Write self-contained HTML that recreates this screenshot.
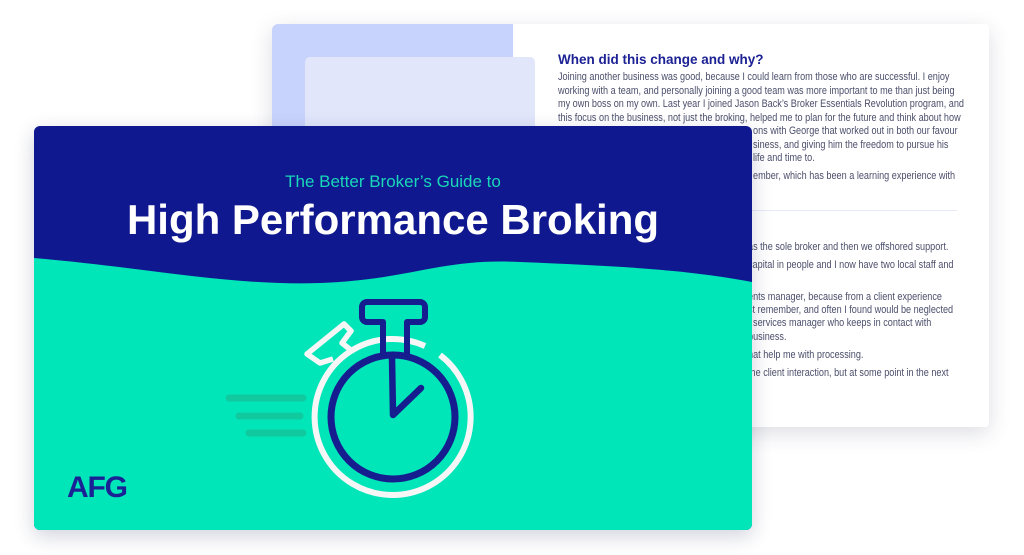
<!DOCTYPE html>
<html><head><meta charset="utf-8"><style>
html,body{margin:0;padding:0;background:#fff;}
body{width:1024px;height:555px;position:relative;overflow:hidden;font-family:"Liberation Sans",sans-serif;}
.page{position:absolute;left:272px;top:24px;width:717px;height:403px;background:#fff;border-radius:4px;box-shadow:0 6px 22px rgba(40,45,80,.16);}
.p1{position:absolute;left:272px;top:24px;width:241px;height:200px;background:#c8d3fd;border-radius:6px 0 0 0;}
.p2{position:absolute;left:305px;top:57px;width:230px;height:160px;background:#e1e6fb;border-radius:5px;}
.t{position:absolute;font-size:10.6px;color:#4b4f6b;white-space:nowrap;line-height:13px;transform:scaleX(0.86);transform-origin:0 0;}
h3{position:absolute;left:558px;top:52px;margin:0;font-size:13.5px;color:#1c2194;font-weight:bold;}
.div{position:absolute;left:558px;top:210px;width:399px;height:1px;background:#e6e9f7;}
.card{position:absolute;left:34px;top:126px;width:718px;height:404px;border-radius:6px;overflow:hidden;background:#10188f;box-shadow:0 6px 20px rgba(20,30,80,.2);}
</style></head><body>
<div class="page"></div>
<div class="p1"></div>
<div class="p2"></div>
<h3>When did this change and why?</h3>
<div class="t" style="left:558px;top:71px">Joining another business was good, because I could learn from those who are successful. I enjoy</div>
<div class="t" style="left:558px;top:85px">working with a team, and personally joining a good team was more important to me than just being</div>
<div class="t" style="left:558px;top:98px">my own boss on my own. Last year I joined Jason Back’s Broker Essentials Revolution program, and</div>
<div class="t" style="left:558px;top:112px">this focus on the business, not just the broking, helped me to plan for the future and think about how</div>
<div class="t" style="left:753px;top:125px">ons with George that worked out in both our favour</div>
<div class="t" style="left:753px;top:139px">siness, and giving him the freedom to pursue his</div>
<div class="t" style="left:753px;top:152px">life and time to.</div>
<div class="t" style="left:753px;top:170px">ember, which has been a learning experience with</div>
<div class="div"></div>
<div class="t" style="left:748px;top:241px">as the sole broker and then we offshored support.</div>
<div class="t" style="left:748px;top:259px">capital in people and I now have two local staff and</div>
<div class="t" style="left:748px;top:291px">ents manager, because from a client experience</div>
<div class="t" style="left:748px;top:304px">st remember, and often I found would be neglected</div>
<div class="t" style="left:748px;top:317px">t services manager who keeps in contact with</div>
<div class="t" style="left:748px;top:331px">business.</div>
<div class="t" style="left:748px;top:349px">hat help me with processing.</div>
<div class="t" style="left:748px;top:367px">the client interaction, but at some point in the next</div>
<div class="card">
<svg width="718" height="404" viewBox="34 126 718 404" style="position:absolute;left:0;top:0">
<path d="M34,258 C150,268 230,286 320,283 C410,280 440,258 520,262 C620,266 690,270 752,282 L752,530 L34,530 Z" fill="#00e6b9"/>
<text x="393" y="187" text-anchor="middle" font-family="Liberation Sans" font-size="17" fill="#19d7b8">The Better Broker’s Guide to</text>
<text x="393" y="234" text-anchor="middle" font-family="Liberation Sans" font-weight="bold" font-size="42" fill="#fff">High Performance Broking</text>
<g stroke="#10c99f" stroke-width="7" stroke-linecap="round">
<line x1="229" y1="398" x2="303" y2="398"/><line x1="239" y1="416" x2="300" y2="416"/><line x1="249" y1="433" x2="303" y2="433"/>
</g>
<path d="M440,355 A78 78 0 1 1 425,346" fill="none" stroke="#f6f6f6" stroke-width="6"/>
<path d="M333,359 L320,363 L307,354 L344,324 L351,331 L342,343 L352,351" fill="none" stroke="#f6f6f6" stroke-width="5.5" stroke-linejoin="round"/>
<path d="M383,357 V322 H367 a5,5 0 0 1 -5,-5 V307 a5,5 0 0 1 5,-5 H420 a5,5 0 0 1 5,5 V317 a5,5 0 0 1 -5,5 H407 V358" fill="none" stroke="#161d8f" stroke-width="6" stroke-linejoin="round"/>
<circle cx="393" cy="417" r="62" fill="none" stroke="#161d8f" stroke-width="7"/>
<path d="M392,357 L393,415 L421,388" fill="none" stroke="#161d8f" stroke-width="6.5" stroke-linejoin="round" stroke-linecap="round"/>
<text x="67" y="497" font-family="Liberation Sans" font-weight="bold" font-size="30" fill="#1a2194" letter-spacing="-1.2">AFG</text>
</svg>
</div>
</body></html>
